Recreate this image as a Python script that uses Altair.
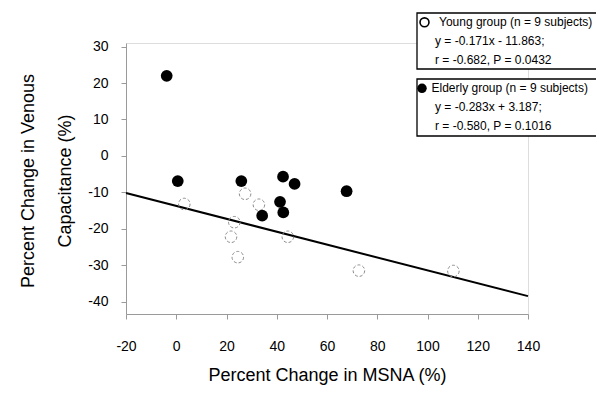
import altair as alt
import pandas as pd

# ---- data ----
young_x = [3.2, 27.4, 32.9, 23.1, 21.8, 24.5, 44.4, 72.7, 110.3]
young_y = [-13.2, -10.4, -13.4, -18.2, -22.2, -27.8, -22.2, -31.5, -31.6]
elderly_x = [-3.8, 0.6, 25.9, 42.5, 47.1, 67.8, 41.3, 42.6, 34.2]
elderly_y = [22.0, -6.9, -6.9, -5.7, -7.7, -9.7, -12.6, -15.5, -16.4]
fit_x = [-20, 140]
fit_y = [-10.2, -38.5]

x_ticks = [-20, 0, 20, 40, 60, 80, 100, 120, 140]
y_ticks = [30, 20, 10, 0, -10, -20, -30, -40]

young_lines = ["Young group (n = 9 subjects)", "y = -0.171x - 11.863;", "r = -0.682, P = 0.0432"]
elderly_lines = ["Elderly group (n = 9 subjects)", "y = -0.283x + 3.187;", "r = -0.580, P = 0.1016"]

FONT = "Liberation Sans"
HYPHEN = "datum.value < 0 ? '-' + abs(datum.value) : '' + datum.value"

young = pd.DataFrame({"x": young_x, "y": young_y})
elderly = pd.DataFrame({"x": elderly_x, "y": elderly_y})
fit = pd.DataFrame({"x": fit_x, "y": fit_y})

xscale = alt.Scale(domain=[-20, 140], nice=False, zero=False)
yscale = alt.Scale(domain=[-43.4, 31.0], nice=False, zero=False)

xaxis = alt.Axis(values=x_ticks, title="Percent Change in MSNA (%)", grid=False,
                 labelFontSize=14, labelFont=FONT, labelColor="black", labelExpr=HYPHEN,
                 labelOverlap=False, labelFlush=False,
                 titleFontSize=18, titleFont=FONT, titleFontWeight="normal", titleColor="black",
                 domainColor="#9a9a9a", domainWidth=1, tickColor="#9a9a9a", tickSize=5,
                 labelPadding=20, titleY=61, titleBaseline="middle")
yaxis = alt.Axis(values=y_ticks, title=["Percent Change in Venous", "Capacitance (%)"], grid=False,
                 labelFontSize=14, labelFont=FONT, labelColor="black", labelExpr=HYPHEN,
                 labelOverlap=False, labelFlush=False,
                 titleFontSize=18, titleFont=FONT, titleFontWeight="normal", titleColor="black",
                 domainColor="#9a9a9a", domainWidth=1, tickColor="#9a9a9a", tickSize=5,
                 labelPadding=13, titleX=-98, titleY=137.5, titleAngle=-90,
                 titleBaseline="middle", titleAlign="center", titleLineHeight=37)

X = alt.X("x:Q", scale=xscale, axis=xaxis)
Y = alt.Y("y:Q", scale=yscale, axis=yaxis)

line = alt.Chart(fit).mark_line(color="black", strokeWidth=2).encode(x=X, y=Y)

open_pts = alt.Chart(young).mark_point(shape="circle", filled=False, size=133,
                                       color="#8a8a8a", strokeWidth=1, strokeDash=[3, 2],
                                       opacity=1).encode(x=X, y=Y)
filled_pts = alt.Chart(elderly).mark_point(shape="circle", filled=True, size=138,
                                           color="black", opacity=1).encode(x=X, y=Y)

# ---- legend boxes (layout in pixels of the plot area) ----
one = pd.DataFrame({"k": [0]})
layers = [line, open_pts, filled_pts]

def box(x1, x2, y1, y2):
    return alt.Chart(one).mark_rect(fill="white", stroke="black", strokeWidth=1.3).encode(
        x=alt.value(x1), x2=alt.value(x2), y=alt.value(y1), y2=alt.value(y2))

def txt(s, x, y):
    return alt.Chart(one).mark_text(text=s, align="left", baseline="middle",
                                    font=FONT, fontSize=12, color="black").encode(
        x=alt.value(x), y=alt.value(y))

layers.append(box(291, 480, -30, 26))
layers.append(box(291, 480, 36, 93))

layers.append(alt.Chart(one).mark_point(shape="circle", filled=False, size=80, color="black",
                                        strokeWidth=1.6, opacity=1).encode(
    x=alt.value(298.5), y=alt.value(-20.7)))
layers.append(alt.Chart(one).mark_point(shape="circle", filled=True, size=90, color="black",
                                        opacity=1).encode(
    x=alt.value(296), y=alt.value(45.3)))

for s, x, y in zip(young_lines, [313, 309, 309], [-20.7, -2, 17]):
    layers.append(txt(s, x, y))
for s, x, y in zip(elderly_lines, [305.5, 309, 309], [45.3, 64.3, 83]):
    layers.append(txt(s, x, y))

chart = alt.layer(*layers).properties(
    width=402, height=271,
    autosize=alt.AutoSizeParams(type="none"),
    padding={"left": 118, "top": 35, "right": 68, "bottom": 71},
).configure_view(stroke=None).configure(background="white")

chart.save("out.html", embed_options={"renderer": "svg", "actions": False})
